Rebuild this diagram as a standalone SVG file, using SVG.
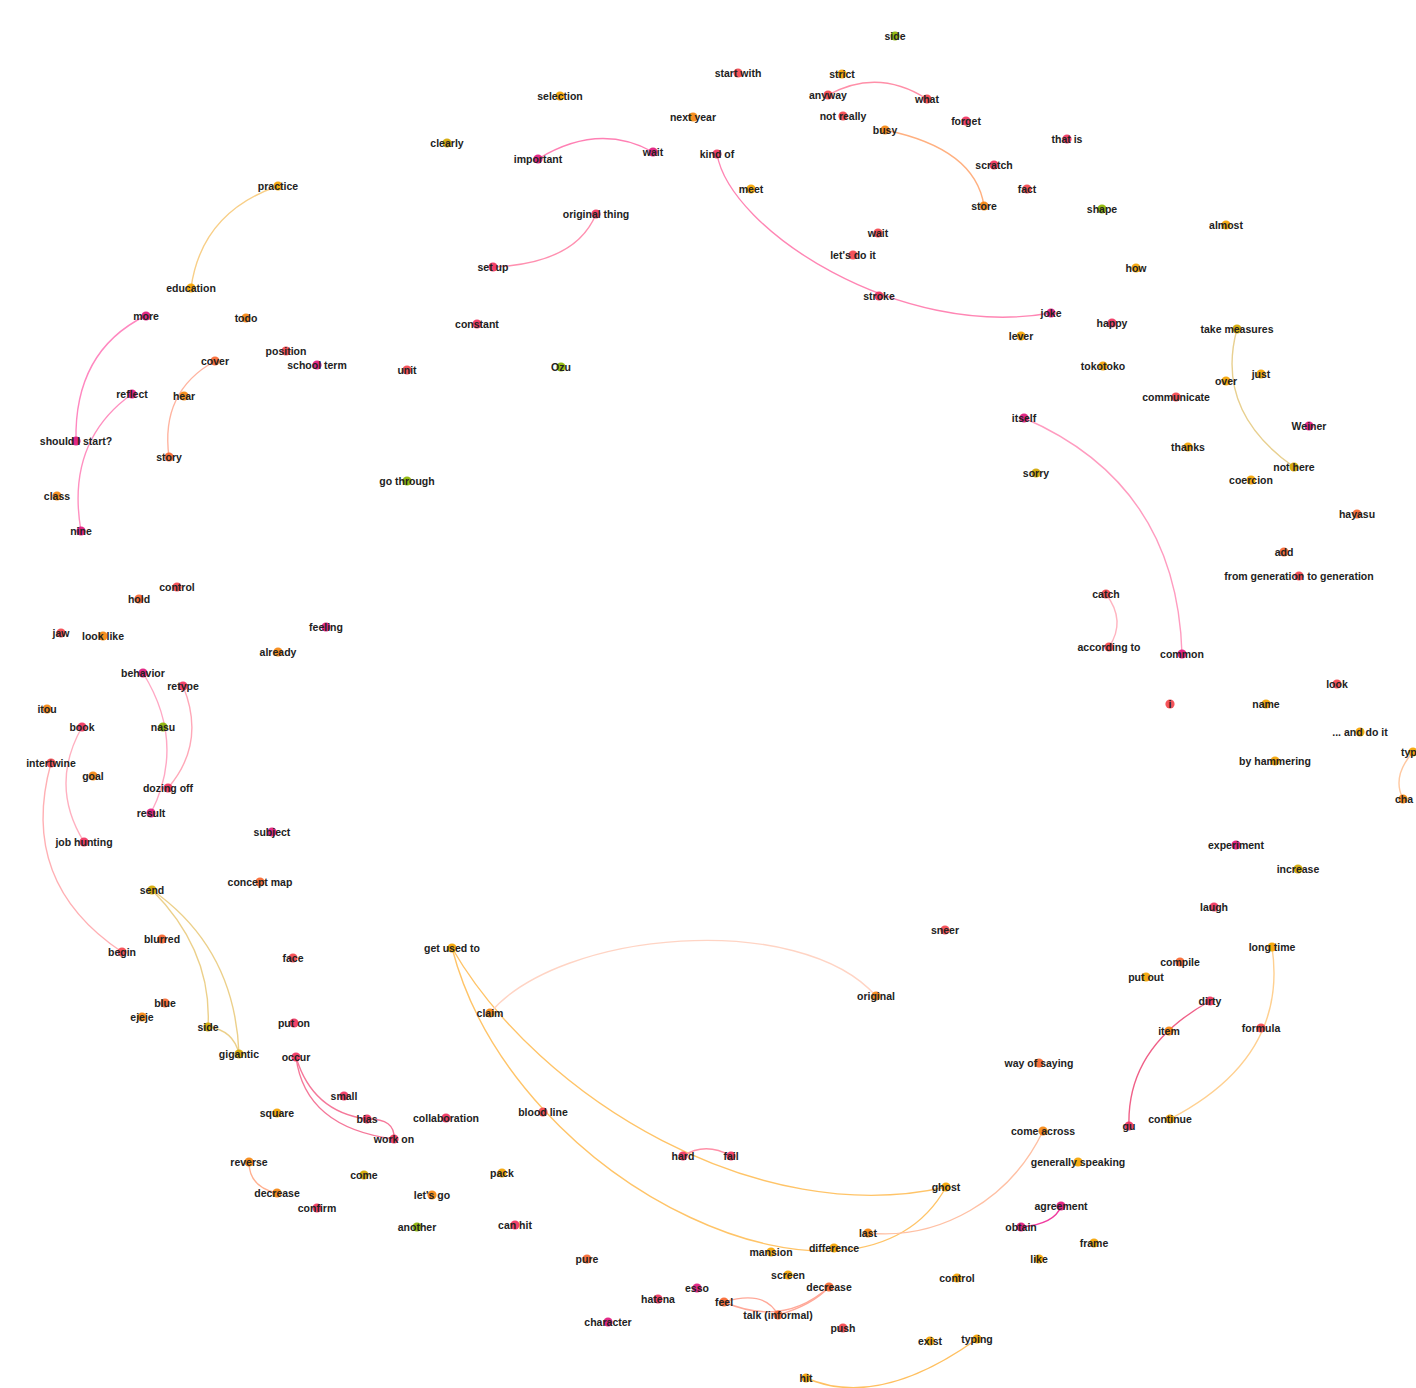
<svg xmlns="http://www.w3.org/2000/svg" width="1416" height="1388" viewBox="0 0 1416 1388">
<style>
text{font-family:"Liberation Sans",Arial,sans-serif;font-weight:bold;font-size:10.5px;fill:#222;text-anchor:middle}
.node circle{r:4.6;opacity:0.92}
.m{fill:#e0187c}.p{fill:#f0335e}.r{fill:#f4454d}.or{fill:#f7662f}.o{fill:#f5860f}.a{fill:#f4a300}.y{fill:#d2a700}.g{fill:#8cb400}
#edges path{fill:none;stroke-width:1.4}
</style>
<rect width="1416" height="1388" fill="#fff"/>
<g id="edges">
<path d="M145,316 Q74,351.5 76,441" stroke="#ff88c0"/>
<path d="M132,394 Q65.5,441.5 81,531" stroke="#ff90c0"/>
<path d="M215,361 Q160,391.5 169,457" stroke="#ffb4a0"/>
<path d="M278,186 Q201.5,212.5 191,288" stroke="#f8cf88"/>
<path d="M538,159 Q598.5,122 653,152" stroke="#ff80b4"/>
<path d="M596,214 Q576,263.5 493,267" stroke="#ff90b0"/>
<path d="M717,154 C730,230 900,340 1051,313" stroke="#ff86b4"/>
<path d="M828,95 Q878,67.5 927,99" stroke="#ff8fa8"/>
<path d="M885,130 Q975.5,148.5 984,206" stroke="#ffb080"/>
<path d="M1237,329 Q1214.5,411.5 1294,467" stroke="#e8d090"/>
<path d="M1024,418 Q1177,484 1182,654" stroke="#ff9cc0"/>
<path d="M1106,594 Q1126.5,621 1109,647" stroke="#ffb4c0"/>
<path d="M143,673 Q186.5,743 151,813" stroke="#ffa8c4"/>
<path d="M183,686 Q206.5,743 168,788" stroke="#ffa8b8"/>
<path d="M82,727 Q49,785.5 84,842" stroke="#ffb0c0"/>
<path d="M51,763 Q18,882.5 122,952" stroke="#ffb0b4"/>
<path d="M152,890 Q212.5,951 208,1027" stroke="#ecd08a"/>
<path d="M152,890 Q235,948 239,1054" stroke="#ecd08a"/>
<path d="M208,1027 Q233.5,1030 239,1054" stroke="#ecd08a"/>
<path d="M296,1057 Q312.5,1112 367,1119" stroke="#f5789a"/>
<path d="M296,1057 Q305,1127.5 394,1139" stroke="#f5789a"/>
<path d="M367,1119 Q395.5,1118.5 394,1139" stroke="#f5789a"/>
<path d="M249,1162 Q249,1187 277,1193" stroke="#ffb090"/>
<path d="M452,948 C540,1100 760,1230 946,1187" stroke="#ffc468"/>
<path d="M452,948 C515,1190 860,1345 946,1187" stroke="#ffc468"/>
<path d="M490,1013 C560,930 800,910 876,996" stroke="#ffd4c4"/>
<path d="M868,1233 C940,1240 1010,1200 1043,1131" stroke="#ffc0a4"/>
<path d="M683,1156 Q705.5,1141.5 731,1156" stroke="#ff90a8"/>
<path d="M1210,1001 Q1126.5,1047 1129,1126" stroke="#f06088"/>
<path d="M1272,947 Q1288.5,1057.5 1170,1119" stroke="#ffd090"/>
<path d="M1061,1206 Q1055,1224 1021,1227" stroke="#f03ca0"/>
<path d="M1413,752 Q1391.5,776.5 1403,799" stroke="#ffc8a0"/>
<path d="M806,1378 Q878.5,1409.5 977,1339" stroke="#ffc060"/>
<path d="M724,1302 Q765,1289.5 778,1315" stroke="#ffa898"/>
<path d="M724,1302 Q783.5,1327.5 829,1287" stroke="#ffa898"/>
<path d="M778,1315 Q812.5,1305 829,1287" stroke="#ffa898"/>
</g>
<g id="nodes">
<g id="n-side1" class="node"><circle class="g" cx="895" cy="36"/><text x="895" y="40">side</text></g>
<g id="n-start-with" class="node"><circle class="r" cx="738" cy="73"/><text x="738" y="77">start with</text></g>
<g id="n-strict" class="node"><circle class="a" cx="842" cy="74"/><text x="842" y="78">strict</text></g>
<g id="n-anyway" class="node"><circle class="r" cx="828" cy="95"/><text x="828" y="99">anyway</text></g>
<g id="n-what" class="node"><circle class="r" cx="927" cy="99"/><text x="927" y="103">what</text></g>
<g id="n-selection" class="node"><circle class="a" cx="560" cy="96"/><text x="560" y="100">selection</text></g>
<g id="n-next-year" class="node"><circle class="o" cx="693" cy="117"/><text x="693" y="121">next year</text></g>
<g id="n-not-really" class="node"><circle class="r" cx="843" cy="116"/><text x="843" y="120">not really</text></g>
<g id="n-forget" class="node"><circle class="p" cx="966" cy="121"/><text x="966" y="125">forget</text></g>
<g id="n-busy" class="node"><circle class="o" cx="885" cy="130"/><text x="885" y="134">busy</text></g>
<g id="n-clearly" class="node"><circle class="y" cx="447" cy="143"/><text x="447" y="147">clearly</text></g>
<g id="n-important" class="node"><circle class="m" cx="538" cy="159"/><text x="538" y="163">important</text></g>
<g id="n-wait1" class="node"><circle class="m" cx="653" cy="152"/><text x="653" y="156">wait</text></g>
<g id="n-kind-of" class="node"><circle class="p" cx="717" cy="154"/><text x="717" y="158">kind of</text></g>
<g id="n-that-is" class="node"><circle class="p" cx="1067" cy="139"/><text x="1067" y="143">that is</text></g>
<g id="n-scratch" class="node"><circle class="p" cx="994" cy="165"/><text x="994" y="169">scratch</text></g>
<g id="n-practice" class="node"><circle class="a" cx="278" cy="186"/><text x="278" y="190">practice</text></g>
<g id="n-meet" class="node"><circle class="a" cx="751" cy="189"/><text x="751" y="193">meet</text></g>
<g id="n-fact" class="node"><circle class="r" cx="1027" cy="189"/><text x="1027" y="193">fact</text></g>
<g id="n-store" class="node"><circle class="o" cx="984" cy="206"/><text x="984" y="210">store</text></g>
<g id="n-shape" class="node"><circle class="g" cx="1102" cy="209"/><text x="1102" y="213">shape</text></g>
<g id="n-original-thing" class="node"><circle class="p" cx="596" cy="214"/><text x="596" y="218">original thing</text></g>
<g id="n-almost" class="node"><circle class="a" cx="1226" cy="225"/><text x="1226" y="229">almost</text></g>
<g id="n-wait2" class="node"><circle class="r" cx="878" cy="233"/><text x="878" y="237">wait</text></g>
<g id="n-lets-do-it" class="node"><circle class="r" cx="853" cy="255"/><text x="853" y="259">let's do it</text></g>
<g id="n-set-up" class="node"><circle class="p" cx="493" cy="267"/><text x="493" y="271">set up</text></g>
<g id="n-how" class="node"><circle class="a" cx="1136" cy="268"/><text x="1136" y="272">how</text></g>
<g id="n-education" class="node"><circle class="a" cx="191" cy="288"/><text x="191" y="292">education</text></g>
<g id="n-stroke" class="node"><circle class="p" cx="879" cy="296"/><text x="879" y="300">stroke</text></g>
<g id="n-joke" class="node"><circle class="m" cx="1051" cy="313"/><text x="1051" y="317">joke</text></g>
<g id="n-more" class="node"><circle class="m" cx="146" cy="316"/><text x="146" y="320">more</text></g>
<g id="n-todo" class="node"><circle class="o" cx="246" cy="318"/><text x="246" y="322">todo</text></g>
<g id="n-happy" class="node"><circle class="p" cx="1112" cy="323"/><text x="1112" y="327">happy</text></g>
<g id="n-constant" class="node"><circle class="p" cx="477" cy="324"/><text x="477" y="328">constant</text></g>
<g id="n-take-measures" class="node"><circle class="y" cx="1237" cy="329"/><text x="1237" y="333">take measures</text></g>
<g id="n-lever" class="node"><circle class="a" cx="1021" cy="336"/><text x="1021" y="340">lever</text></g>
<g id="n-position" class="node"><circle class="r" cx="286" cy="351"/><text x="286" y="355">position</text></g>
<g id="n-school-term" class="node"><circle class="m" cx="317" cy="365"/><text x="317" y="369">school term</text></g>
<g id="n-cover" class="node"><circle class="or" cx="215" cy="361"/><text x="215" y="365">cover</text></g>
<g id="n-ozu" class="node"><circle class="g" cx="561" cy="367"/><text x="561" y="371">Ozu</text></g>
<g id="n-unit" class="node"><circle class="r" cx="407" cy="370"/><text x="407" y="374">unit</text></g>
<g id="n-tokotoko" class="node"><circle class="a" cx="1103" cy="366"/><text x="1103" y="370">tokotoko</text></g>
<g id="n-just" class="node"><circle class="a" cx="1261" cy="374"/><text x="1261" y="378">just</text></g>
<g id="n-over" class="node"><circle class="a" cx="1226" cy="381"/><text x="1226" y="385">over</text></g>
<g id="n-reflect" class="node"><circle class="m" cx="132" cy="394"/><text x="132" y="398">reflect</text></g>
<g id="n-hear" class="node"><circle class="o" cx="184" cy="396"/><text x="184" y="400">hear</text></g>
<g id="n-communicate" class="node"><circle class="r" cx="1176" cy="397"/><text x="1176" y="401">communicate</text></g>
<g id="n-itself" class="node"><circle class="m" cx="1024" cy="418"/><text x="1024" y="422">itself</text></g>
<g id="n-weiner" class="node"><circle class="m" cx="1309" cy="426"/><text x="1309" y="430">Weiner</text></g>
<g id="n-should-i-start" class="node"><circle class="m" cx="76" cy="441"/><text x="76" y="445">should I start?</text></g>
<g id="n-thanks" class="node"><circle class="a" cx="1188" cy="447"/><text x="1188" y="451">thanks</text></g>
<g id="n-story" class="node"><circle class="or" cx="169" cy="457"/><text x="169" y="461">story</text></g>
<g id="n-not-here" class="node"><circle class="y" cx="1294" cy="467"/><text x="1294" y="471">not here</text></g>
<g id="n-sorry" class="node"><circle class="y" cx="1036" cy="473"/><text x="1036" y="477">sorry</text></g>
<g id="n-go-through" class="node"><circle class="g" cx="407" cy="481"/><text x="407" y="485">go through</text></g>
<g id="n-coercion" class="node"><circle class="a" cx="1251" cy="480"/><text x="1251" y="484">coercion</text></g>
<g id="n-class" class="node"><circle class="o" cx="57" cy="496"/><text x="57" y="500">class</text></g>
<g id="n-hayasu" class="node"><circle class="or" cx="1357" cy="514"/><text x="1357" y="518">hayasu</text></g>
<g id="n-nine" class="node"><circle class="m" cx="81" cy="531"/><text x="81" y="535">nine</text></g>
<g id="n-add" class="node"><circle class="or" cx="1284" cy="552"/><text x="1284" y="556">add</text></g>
<g id="n-from-gen" class="node"><circle class="r" cx="1299" cy="576"/><text x="1299" y="580">from generation to generation</text></g>
<g id="n-control1" class="node"><circle class="r" cx="177" cy="587"/><text x="177" y="591">control</text></g>
<g id="n-hold" class="node"><circle class="or" cx="139" cy="599"/><text x="139" y="603">hold</text></g>
<g id="n-catch" class="node"><circle class="r" cx="1106" cy="594"/><text x="1106" y="598">catch</text></g>
<g id="n-jaw" class="node"><circle class="r" cx="61" cy="633"/><text x="61" y="637">jaw</text></g>
<g id="n-look-like" class="node"><circle class="o" cx="103" cy="636"/><text x="103" y="640">look like</text></g>
<g id="n-feeling" class="node"><circle class="m" cx="326" cy="627"/><text x="326" y="631">feeling</text></g>
<g id="n-according-to" class="node"><circle class="r" cx="1109" cy="647"/><text x="1109" y="651">according to</text></g>
<g id="n-common" class="node"><circle class="m" cx="1182" cy="654"/><text x="1182" y="658">common</text></g>
<g id="n-already" class="node"><circle class="o" cx="278" cy="652"/><text x="278" y="656">already</text></g>
<g id="n-behavior" class="node"><circle class="m" cx="143" cy="673"/><text x="143" y="677">behavior</text></g>
<g id="n-retype" class="node"><circle class="p" cx="183" cy="686"/><text x="183" y="690">retype</text></g>
<g id="n-look" class="node"><circle class="r" cx="1337" cy="684"/><text x="1337" y="688">look</text></g>
<g id="n-i" class="node"><circle class="r" cx="1170" cy="704"/><text x="1170" y="708">i</text></g>
<g id="n-name" class="node"><circle class="a" cx="1266" cy="704"/><text x="1266" y="708">name</text></g>
<g id="n-itou" class="node"><circle class="o" cx="47" cy="709"/><text x="47" y="713">itou</text></g>
<g id="n-book" class="node"><circle class="p" cx="82" cy="727"/><text x="82" y="731">book</text></g>
<g id="n-nasu" class="node"><circle class="g" cx="163" cy="727"/><text x="163" y="731">nasu</text></g>
<g id="n-and-do-it" class="node"><circle class="a" cx="1360" cy="732"/><text x="1360" y="736">... and do it</text></g>
<g id="n-intertwine" class="node"><circle class="r" cx="51" cy="763"/><text x="51" y="767">intertwine</text></g>
<g id="n-typ" class="node"><circle class="a" cx="1413" cy="752"/><text x="1401" y="756" style="text-anchor:start">typ</text></g>
<g id="n-by-hammering" class="node"><circle class="a" cx="1275" cy="761"/><text x="1275" y="765">by hammering</text></g>
<g id="n-goal" class="node"><circle class="o" cx="93" cy="776"/><text x="93" y="780">goal</text></g>
<g id="n-dozing-off" class="node"><circle class="p" cx="168" cy="788"/><text x="168" y="792">dozing off</text></g>
<g id="n-cha" class="node"><circle class="o" cx="1403" cy="799"/><text x="1404" y="803">cha</text></g>
<g id="n-result" class="node"><circle class="m" cx="151" cy="813"/><text x="151" y="817">result</text></g>
<g id="n-subject" class="node"><circle class="m" cx="272" cy="832"/><text x="272" y="836">subject</text></g>
<g id="n-experiment" class="node"><circle class="m" cx="1236" cy="845"/><text x="1236" y="849">experiment</text></g>
<g id="n-job-hunting" class="node"><circle class="p" cx="84" cy="842"/><text x="84" y="846">job hunting</text></g>
<g id="n-increase" class="node"><circle class="y" cx="1298" cy="869"/><text x="1298" y="873">increase</text></g>
<g id="n-concept-map" class="node"><circle class="or" cx="260" cy="882"/><text x="260" y="886">concept map</text></g>
<g id="n-send" class="node"><circle class="y" cx="152" cy="890"/><text x="152" y="894">send</text></g>
<g id="n-laugh" class="node"><circle class="p" cx="1214" cy="907"/><text x="1214" y="911">laugh</text></g>
<g id="n-sneer" class="node"><circle class="r" cx="945" cy="930"/><text x="945" y="934">sneer</text></g>
<g id="n-blurred" class="node"><circle class="or" cx="162" cy="939"/><text x="162" y="943">blurred</text></g>
<g id="n-begin" class="node"><circle class="r" cx="122" cy="952"/><text x="122" y="956">begin</text></g>
<g id="n-long-time" class="node"><circle class="a" cx="1272" cy="947"/><text x="1272" y="951">long time</text></g>
<g id="n-get-used-to" class="node"><circle class="a" cx="452" cy="948"/><text x="452" y="952">get used to</text></g>
<g id="n-face" class="node"><circle class="r" cx="293" cy="958"/><text x="293" y="962">face</text></g>
<g id="n-compile" class="node"><circle class="or" cx="1180" cy="962"/><text x="1180" y="966">compile</text></g>
<g id="n-put-out" class="node"><circle class="a" cx="1146" cy="977"/><text x="1146" y="981">put out</text></g>
<g id="n-original" class="node"><circle class="o" cx="876" cy="996"/><text x="876" y="1000">original</text></g>
<g id="n-dirty" class="node"><circle class="p" cx="1210" cy="1001"/><text x="1210" y="1005">dirty</text></g>
<g id="n-blue" class="node"><circle class="or" cx="165" cy="1003"/><text x="165" y="1007">blue</text></g>
<g id="n-claim" class="node"><circle class="o" cx="490" cy="1013"/><text x="490" y="1017">claim</text></g>
<g id="n-ejeje" class="node"><circle class="o" cx="142" cy="1017"/><text x="142" y="1021">ejeje</text></g>
<g id="n-put-on" class="node"><circle class="p" cx="294" cy="1023"/><text x="294" y="1027">put on</text></g>
<g id="n-side2" class="node"><circle class="y" cx="208" cy="1027"/><text x="208" y="1031">side</text></g>
<g id="n-formula" class="node"><circle class="r" cx="1261" cy="1028"/><text x="1261" y="1032">formula</text></g>
<g id="n-item" class="node"><circle class="o" cx="1169" cy="1031"/><text x="1169" y="1035">item</text></g>
<g id="n-gigantic" class="node"><circle class="y" cx="239" cy="1054"/><text x="239" y="1058">gigantic</text></g>
<g id="n-occur" class="node"><circle class="p" cx="296" cy="1057"/><text x="296" y="1061">occur</text></g>
<g id="n-way-of-saying" class="node"><circle class="or" cx="1039" cy="1063"/><text x="1039" y="1067">way of saying</text></g>
<g id="n-small" class="node"><circle class="p" cx="344" cy="1096"/><text x="344" y="1100">small</text></g>
<g id="n-square" class="node"><circle class="a" cx="277" cy="1113"/><text x="277" y="1117">square</text></g>
<g id="n-blood-line" class="node"><circle class="r" cx="543" cy="1112"/><text x="543" y="1116">blood line</text></g>
<g id="n-bias" class="node"><circle class="p" cx="367" cy="1119"/><text x="367" y="1123">bias</text></g>
<g id="n-collaboration" class="node"><circle class="p" cx="446" cy="1118"/><text x="446" y="1122">collaboration</text></g>
<g id="n-gu" class="node"><circle class="p" cx="1129" cy="1126"/><text x="1129" y="1130">gu</text></g>
<g id="n-continue" class="node"><circle class="a" cx="1170" cy="1119"/><text x="1170" y="1123">continue</text></g>
<g id="n-come-across" class="node"><circle class="o" cx="1043" cy="1131"/><text x="1043" y="1135">come across</text></g>
<g id="n-work-on" class="node"><circle class="p" cx="394" cy="1139"/><text x="394" y="1143">work on</text></g>
<g id="n-hard" class="node"><circle class="p" cx="683" cy="1156"/><text x="683" y="1160">hard</text></g>
<g id="n-fail" class="node"><circle class="p" cx="731" cy="1156"/><text x="731" y="1160">fail</text></g>
<g id="n-reverse" class="node"><circle class="o" cx="249" cy="1162"/><text x="249" y="1166">reverse</text></g>
<g id="n-generally-speaking" class="node"><circle class="a" cx="1078" cy="1162"/><text x="1078" y="1166">generally speaking</text></g>
<g id="n-pack" class="node"><circle class="a" cx="502" cy="1173"/><text x="502" y="1177">pack</text></g>
<g id="n-come" class="node"><circle class="y" cx="364" cy="1175"/><text x="364" y="1179">come</text></g>
<g id="n-ghost" class="node"><circle class="a" cx="946" cy="1187"/><text x="946" y="1191">ghost</text></g>
<g id="n-decrease1" class="node"><circle class="o" cx="277" cy="1193"/><text x="277" y="1197">decrease</text></g>
<g id="n-lets-go" class="node"><circle class="o" cx="432" cy="1195"/><text x="432" y="1199">let's go</text></g>
<g id="n-agreement" class="node"><circle class="m" cx="1061" cy="1206"/><text x="1061" y="1210">agreement</text></g>
<g id="n-confirm" class="node"><circle class="p" cx="317" cy="1208"/><text x="317" y="1212">confirm</text></g>
<g id="n-can-hit" class="node"><circle class="p" cx="515" cy="1225"/><text x="515" y="1229">can hit</text></g>
<g id="n-obtain" class="node"><circle class="m" cx="1021" cy="1227"/><text x="1021" y="1231">obtain</text></g>
<g id="n-another" class="node"><circle class="g" cx="417" cy="1227"/><text x="417" y="1231">another</text></g>
<g id="n-last" class="node"><circle class="o" cx="868" cy="1233"/><text x="868" y="1237">last</text></g>
<g id="n-frame" class="node"><circle class="a" cx="1094" cy="1243"/><text x="1094" y="1247">frame</text></g>
<g id="n-mansion" class="node"><circle class="a" cx="771" cy="1252"/><text x="771" y="1256">mansion</text></g>
<g id="n-difference" class="node"><circle class="a" cx="834" cy="1248"/><text x="834" y="1252">difference</text></g>
<g id="n-like" class="node"><circle class="a" cx="1039" cy="1259"/><text x="1039" y="1263">like</text></g>
<g id="n-pure" class="node"><circle class="or" cx="587" cy="1259"/><text x="587" y="1263">pure</text></g>
<g id="n-screen" class="node"><circle class="a" cx="788" cy="1275"/><text x="788" y="1279">screen</text></g>
<g id="n-control2" class="node"><circle class="a" cx="957" cy="1278"/><text x="957" y="1282">control</text></g>
<g id="n-esso" class="node"><circle class="m" cx="697" cy="1288"/><text x="697" y="1292">esso</text></g>
<g id="n-decrease2" class="node"><circle class="or" cx="829" cy="1287"/><text x="829" y="1291">decrease</text></g>
<g id="n-hatena" class="node"><circle class="p" cx="658" cy="1299"/><text x="658" y="1303">hatena</text></g>
<g id="n-feel" class="node"><circle class="or" cx="724" cy="1302"/><text x="724" y="1306">feel</text></g>
<g id="n-talk" class="node"><circle class="or" cx="778" cy="1315"/><text x="778" y="1319">talk (informal)</text></g>
<g id="n-character" class="node"><circle class="m" cx="608" cy="1322"/><text x="608" y="1326">character</text></g>
<g id="n-push" class="node"><circle class="r" cx="843" cy="1328"/><text x="843" y="1332">push</text></g>
<g id="n-exist" class="node"><circle class="a" cx="930" cy="1341"/><text x="930" y="1345">exist</text></g>
<g id="n-typing" class="node"><circle class="a" cx="977" cy="1339"/><text x="977" y="1343">typing</text></g>
<g id="n-hit" class="node"><circle class="a" cx="806" cy="1378"/><text x="806" y="1382">hit</text></g>
</g>
</svg>
